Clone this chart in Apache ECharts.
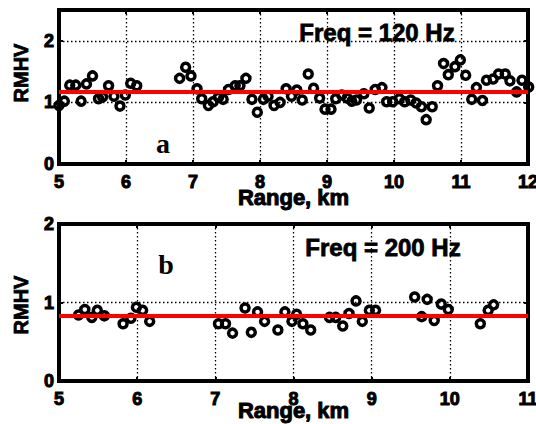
<!DOCTYPE html>
<html><head><meta charset="utf-8">
<script src="https://cdn.jsdelivr.net/npm/echarts@6/dist/echarts.min.js"></script>
<style>html,body{margin:0;padding:0;background:#fff}#c{width:536px;height:424px}</style>
</head><body><div id="c"></div>
<script>
// Panel a: Freq = 120 Hz
const rangeA = [5.00,5.08,5.16,5.25,5.33,5.41,5.50,5.59,5.65,5.74,5.82,5.91,5.99,6.07,6.16,
  6.80,6.89,6.97,7.06,7.13,7.23,7.30,7.38,7.45,7.53,7.63,7.70,7.79,7.88,7.96,
  8.05,8.12,8.21,8.30,8.39,8.47,8.55,8.63,8.72,8.80,8.89,8.97,9.06,9.13,9.22,9.30,9.37,9.44,9.55,9.63,
  9.72,9.82,9.89,9.98,10.08,10.16,10.25,10.33,10.41,10.48,10.57,10.65,10.74,10.81,10.91,10.99,
  11.07,11.16,11.23,11.32,11.38,11.48,11.56,11.66,11.73,11.83,11.91,12.01];
const rmhvA = [0.95,1.02,1.28,1.28,1.02,1.30,1.43,1.06,1.09,1.27,1.10,0.94,1.12,1.31,1.27,
  1.39,1.57,1.43,1.22,1.06,0.95,1.01,1.08,1.05,1.21,1.27,1.27,1.39,1.05,0.84,
  1.05,1.10,0.95,1.00,1.22,1.10,1.20,1.04,1.46,1.23,1.07,0.89,0.89,1.06,1.12,1.07,1.02,1.04,1.14,0.91,
  1.21,1.24,1.01,1.01,1.06,1.01,1.04,0.99,0.93,0.72,0.93,1.27,1.63,1.45,1.58,1.69,
  1.44,1.05,1.24,1.03,1.36,1.38,1.46,1.46,1.35,1.17,1.36,1.25];
const meanA = 1.17;
// Panel b: Freq = 200 Hz
const rangeB = [5.25,5.33,5.42,5.49,5.58,5.82,5.92,5.99,6.07,6.16,
  7.04,7.13,7.22,7.38,7.46,7.54,7.63,7.80,7.89,7.98,
  8.04,8.12,8.22,8.46,8.54,8.63,8.71,8.80,8.88,8.97,9.05,
  9.55,9.64,9.71,9.80,9.89,9.98,10.39,10.49,10.56];
const rmhvB = [0.84,0.91,0.81,0.90,0.83,0.73,0.80,0.94,0.90,0.76,
  0.73,0.73,0.61,0.93,0.62,0.88,0.76,0.65,0.88,0.76,
  0.85,0.73,0.65,0.81,0.81,0.70,0.86,1.02,0.76,0.90,0.90,
  1.07,0.82,1.04,0.77,0.98,0.91,0.73,0.90,0.97];
const meanB = 0.83;
const xRangeA = [5, 12], yRangeA = [0, 2.5];
const xRangeB = [5, 11], yRangeB = [0, 2];
const titleA = 'Freq = 120 Hz', titleB = 'Freq = 200 Hz';
const xName = 'Range, km', yName = 'RMHV';

const chart = echarts.init(document.getElementById('c'), null, {renderer: 'svg'});
const FONT = 'Liberation Sans, Arial, sans-serif';
const dotted = () => ({color: '#000', width: 1.3, type: [1.5, 2.5], opacity: 1});
const tick = () => ({show: true, inside: true, length: 4, lineStyle: {color: '#000', width: 2, opacity: 1}});
const frame = () => ({show: true, onZero: false, lineStyle: {color: '#000000', width: 4, opacity: 1, cap: 'square'}});
const lbl = () => ({fontFamily: FONT, fontWeight: 'bold', fontSize: 18, color: '#000', textBorderColor: '#000', textBorderWidth: 1});
const intFmt = v => (Math.abs(v - Math.round(v)) < 1e-9 ? String(Math.round(v)) : '');

function xAx(gi, r, gap) {
  return [{
    gridIndex: gi, type: 'value', min: r[0], max: r[1], interval: 1, position: 'bottom',
    axisLine: frame(), axisTick: tick(),
    axisLabel: Object.assign({margin: 9, formatter: intFmt, showMaxLabel: true}, lbl()),
    splitLine: {show: true, lineStyle: dotted(), showMinLine: false, showMaxLine: false},
    name: xName, nameLocation: 'middle', nameGap: gap, nameMoveOverlap: false,
    nameTextStyle: {fontFamily: FONT, fontWeight: 'bold', fontSize: 22, color: '#000', verticalAlign: 'top', textBorderColor: '#000', textBorderWidth: 1}
  }, {
    gridIndex: gi, type: 'value', min: r[0], max: r[1], interval: 1, position: 'top',
    axisLine: frame(), axisTick: tick(), axisLabel: {show: false}, splitLine: {show: false}
  }];
}
function yAx(gi, r) {
  return [{
    gridIndex: gi, type: 'value', min: r[0], max: r[1], interval: 1, position: 'left',
    axisLine: frame(), axisTick: tick(),
    axisLabel: Object.assign({margin: 5, formatter: intFmt}, lbl()),
    splitLine: {show: true, lineStyle: dotted(), showMinLine: false, showMaxLine: false}
  }, {
    gridIndex: gi, type: 'value', min: r[0], max: r[1], interval: 1, position: 'right',
    axisLine: frame(), axisTick: tick(), axisLabel: {show: false}, splitLine: {show: false}
  }];
}
function scatter(xi, yi, xs, ys, mean) {
  return {
    type: 'scatter', xAxisIndex: xi, yAxisIndex: yi, clip: false, z: 3,
    data: xs.map((x, i) => [x, ys[i]]),
    symbol: 'circle', symbolSize: 8,
    itemStyle: {color: 'rgba(0,0,0,0)', borderColor: '#000', borderWidth: 3.5, opacity: 1},
    markLine: {
      silent: true, symbol: ['none', 'none'], label: {show: false}, z: 5,
      lineStyle: {color: '#ff0000', width: 4, type: 'solid', opacity: 1},
      emphasis: {disabled: true},
      data: [{yAxis: mean}]
    }
  };
}
const serif = 'bold 28px Liberation Serif, Times New Roman, serif';
const gridBase = {containLabel: false, outerBoundsMode: 'none', show: true, borderColor: '#000', borderWidth: 4};
chart.setOption({
  animation: false,
  backgroundColor: '#fff',
  grid: [
    Object.assign({left: 59, right: 8, top: 10, height: 154}, gridBase),
    Object.assign({left: 59, right: 8, top: 224, height: 157}, gridBase)
  ],
  xAxis: [...xAx(0, xRangeA, 22), ...xAx(1, xRangeB, 18)],
  yAxis: [...yAx(0, yRangeA), ...yAx(1, yRangeB)],
  series: [scatter(0, 0, rangeA, rmhvA, meanA), scatter(2, 2, rangeB, rmhvB, meanB)],
  graphic: [
    {type: 'text', x: 21, y: 73, rotation: Math.PI / 2, z: 10,
     style: {text: yName, font: 'bold 20px ' + FONT, fill: '#000', align: 'center', verticalAlign: 'middle', stroke: '#000', lineWidth: 0.8}},
    {type: 'text', x: 21, y: 305, rotation: Math.PI / 2, z: 10,
     style: {text: yName, font: 'bold 20px ' + FONT, fill: '#000', align: 'center', verticalAlign: 'middle', stroke: '#000', lineWidth: 0.8}},
    {type: 'text', x: 377, y: 32, z: 10,
     style: {text: titleA, font: 'bold 24px ' + FONT, fill: '#000', align: 'center', verticalAlign: 'middle', stroke: '#000', lineWidth: 0.8}},
    {type: 'text', x: 383, y: 247, z: 10,
     style: {text: titleB, font: 'bold 24px ' + FONT, fill: '#000', align: 'center', verticalAlign: 'middle', stroke: '#000', lineWidth: 0.8}},
    {type: 'text', x: 163, y: 143, z: 10, style: {text: 'a', font: serif, fill: '#000', align: 'center', verticalAlign: 'middle'}},
    {type: 'text', x: 166, y: 264, z: 10, style: {text: 'b', font: serif, fill: '#000', align: 'center', verticalAlign: 'middle'}}
  ]
});
</script></body></html>
